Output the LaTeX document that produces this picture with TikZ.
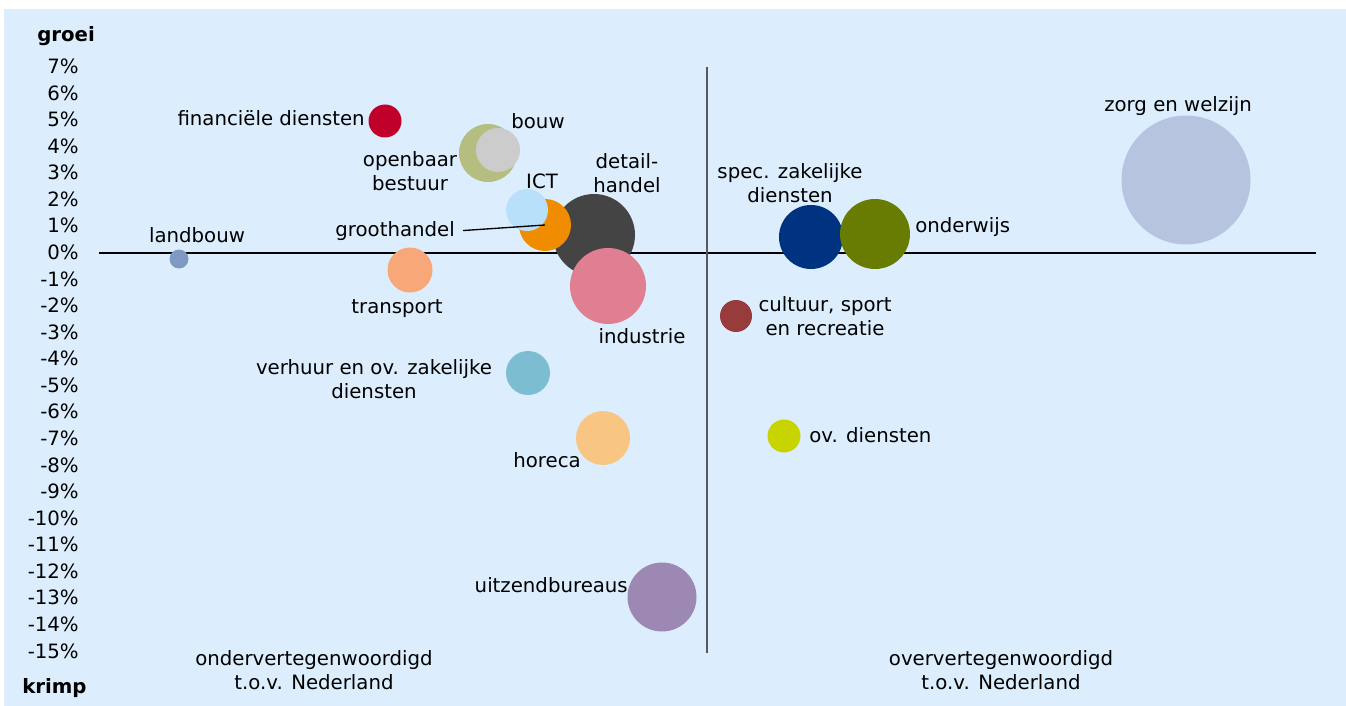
\documentclass[tikz,border=0pt]{standalone}
\usepackage{fontspec}
\setmainfont{DejaVu Sans}
\usetikzlibrary{positioning}
\definecolor{bgblue}{HTML}{DCEEFE}
\definecolor{axisgray}{HTML}{555A60}
\definecolor{clandbouw}{HTML}{7F9AC2}
\definecolor{cfinance}{HTML}{C0002A}
\definecolor{ctransport}{HTML}{F8A878}
\definecolor{copenbaar}{HTML}{B5BE80}
\definecolor{cbouw}{HTML}{CCCCCC}
\definecolor{cict}{HTML}{B8E0FA}
\definecolor{cgroot}{HTML}{F08C00}
\definecolor{cdetail}{HTML}{444444}
\definecolor{cindus}{HTML}{E07F92}
\definecolor{cspec}{HTML}{00337F}
\definecolor{conderwijs}{HTML}{677C00}
\definecolor{ccultuur}{HTML}{973B3B}
\definecolor{covdienst}{HTML}{C8D400}
\definecolor{cuitzend}{HTML}{9D88B3}
\definecolor{choreca}{HTML}{F8C682}
\definecolor{cverhuur}{HTML}{7DBDD2}
\definecolor{czorg}{HTML}{B6C4E0}
\tikzset{
	bubble/.style={
		circle,
		draw=none,
		inner sep=0mm,
	},
	lbl/.style={
		font=\fontsize{14.8}{18}\selectfont,
		inner sep=0mm,
		anchor=base,
		align=center,
	},
	ticklbl/.style={lbl, anchor=base east},
	endlbl/.style={lbl, anchor=base west, font=\fontsize{14.8}{18}\selectfont\bfseries},
}

\begin{document}
\begin{tikzpicture}[x=0.75pt, y=-0.75pt]
\useasboundingbox (0,0) rectangle (1346,706);
\fill[bgblue] (4,9) rectangle (1346,706);

% axes
\coordinate (xl) at (99,253);
\coordinate (xr) at (1316,253);
\coordinate (yt) at (707,67);
\coordinate (yb) at (707,653);
\draw[black, line width=1pt] (xl) -- (xr);
\draw[axisgray, line width=1.3pt] (yt) -- (yb);

\foreach \p in {7,6,...,-15}{
	\node[ticklbl] (t\p) at (79,259.5-26.57*\p) {\p\%};
}
\node[endlbl] (groei) at (37,42) {groei};
\node[endlbl] (krimp) at (22,693) {krimp};

% bubbles
\foreach \n/\x/\y/\r/\c in {
	zorg/1186/180/64.5/czorg,
	detail/594/235/41/cdetail,
	indus/608/286/38/cindus,
	groot/545/225/26/cgroot,
	ict/527/210/21/cict,
	openbaar/488/153/29/copenbaar,
	bouw/498/150/22/cbouw,
	finance/385/121/16.5/cfinance,
	landbouw/179/259/9.5/clandbouw,
	transport/410/270/22.5/ctransport,
	verhuur/528/373/22/cverhuur,
	horeca/603/438/27/choreca,
	uitzend/662/597/34.5/cuitzend,
	spec/811/237/32/cspec,
	onderwijs/875/234/35/conderwijs,
	cultuur/736/316/16/ccultuur,
	ovdienst/784/436/16.5/covdienst%
}{
	\node[bubble, fill=\c, minimum size={1.5pt*\r}] (\n) at (\x,\y) {};
}

% labels (two-line labels sit on the baseline of their last line)
\node[lbl, anchor=base east] (financelbl) at (365,126) {financiële diensten};
\node[lbl] (bouwlbl) at (538,129) {bouw};
\node[lbl] (openbaarlbl) at (410,191) {openbaar\\bestuur};
\node[lbl] (ictlbl) at (542,189) {ICT};
\node[lbl] (detaillbl) at (627,193) {detail-\\handel};
\node[lbl, anchor=base east] (grootlbl) at (455,236) {groothandel};
\node[lbl] (landbouwlbl) at (197,243) {landbouw};
\node[lbl] (transportlbl) at (397,313) {transport};
\node[lbl] (induslbl) at (642,343) {industrie};
\node[lbl] (verhuurlbl) at (374,398) {verhuur en ov. zakelijke\\diensten};
\node[lbl, anchor=base east] (horecalbl) at (581,467) {horeca};
\node[lbl, anchor=base east] (uitzendlbl) at (628,592) {uitzendbureaus};
\node[lbl] (speclbl) at (790,203) {spec. zakelijke\\diensten};
\node[lbl, anchor=base west] (onderwijslbl) at (915,233) {onderwijs};
\node[lbl] (cultuurlbl) at (825,335) {cultuur, sport\\en recreatie};
\node[lbl, anchor=base west] (ovdienstlbl) at (809,442) {ov. diensten};
\node[lbl] (zorglbl) at (1178,112) {zorg en welzijn};
\node[lbl] (onderlbl) at (314,689) {ondervertegenwoordigd\\t.o.v. Nederland};
\node[lbl] (overlbl) at (1001,689) {oververtegenwoordigd\\t.o.v. Nederland};

\draw[black, line width=1pt] ([xshift=6pt]grootlbl.east) -- (groot.center);

\end{tikzpicture}
\end{document}
